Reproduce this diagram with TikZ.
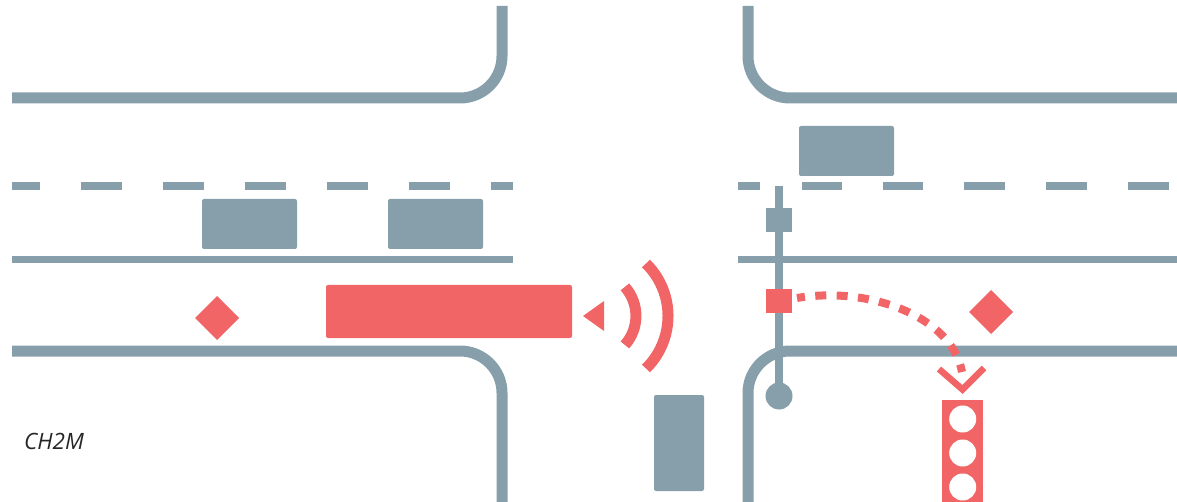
\documentclass[tikz,border=0pt]{standalone}
\usepackage{fontspec}
\setmainfont{Open Sans}
\usetikzlibrary{shapes.geometric}
\definecolor{roadgray}{HTML}{879FAB}
\definecolor{alertred}{HTML}{F26567}
\tikzset{
  road/.style={draw=roadgray,line width=11pt,rounded corners=42pt},
  laneline/.style={draw=roadgray,line width=7pt},
  dashline/.style={draw=roadgray,line width=8pt},
  blockbox/.style={rectangle,inner sep=0pt,outer sep=0pt,rounded corners=2pt},
  car/.style={blockbox,fill=roadgray,minimum width=95pt,minimum height=50pt},
  diamondmark/.style={diamond,fill=alertred,inner sep=0pt,outer sep=0pt,minimum width=44pt,minimum height=44pt},
  wave/.style={draw=alertred,line width=11pt},
  lamp/.style={circle,fill=white,inner sep=0pt,outer sep=0pt,minimum size=27pt},
  sigsquare/.style={rectangle,inner sep=0pt,outer sep=0pt,minimum width=26pt,minimum height=24pt}
}
\begin{document}
\begin{tikzpicture}[x=1pt,y=-1pt]
\useasboundingbox (0,0) rectangle (1177,502);
% kerbs
\draw[road] (12,98) -- (502,98) -- (502,6);
\draw[road] (748,6) -- (748,98) -- (1177,98);
\draw[road] (12,351) -- (502,351) -- (502,502);
\draw[road] (748,502) -- (748,351) -- (1177,351);
% centre dashes
\draw[dashline,dash pattern=on 28pt off 41pt on 41pt off 41pt on 41pt off 41pt on 41pt off 41pt on 41pt off 41pt on 41pt off 41pt on 22pt off 100pt] (12,186) -- (513,186);
\draw[dashline,dash pattern=on 22pt off 42pt on 40pt off 41pt on 40pt off 41pt on 41pt off 41pt on 41pt off 41pt on 41pt off 8pt] (738,186) -- (1169,186);
% lane lines
\draw[laneline] (12,259.5) -- (513,259.5);
\draw[laneline] (738,259.5) -- (1177,259.5);
% vehicles
\node[car] (carA) at (249.5,224) {};
\node[car] (carB) at (435.5,224) {};
\node[car] (carC) at (846.5,151) {};
\node[car,minimum width=50pt,minimum height=96pt] (carD) at (679,443) {};
\node[blockbox,fill=alertred,minimum width=246pt,minimum height=53pt] (bus) at (449,311.5) {};
% detection diamonds
\node[diamondmark] (diaL) at (217,318) {};
\node[diamondmark] (diaR) at (991,312) {};
% transmitter
\fill[alertred] (583,316) -- (604,301) -- (604,331) -- cycle;
\draw[wave] (624.9,286.9) arc[start angle=-41.6,end angle=41.6,radius=43.7];
\draw[wave] (646,263.5) arc[start angle=-45.5,end angle=45.5,radius=73.6];
% signal pole
\node[circle,fill=roadgray,inner sep=0pt,outer sep=0pt,minimum size=27pt] (base) at (779,396) {};
\coordinate (poleTop) at (779,186);
\draw[draw=roadgray,line width=8.5pt] (poleTop) -- (base.center);
\node[sigsquare,fill=roadgray] (sqGray) at (779,220.5) {};
\node[sigsquare,fill=alertred] (sqRed) at (779,301) {};
% dotted path
\coordinate (pathEnd) at (962,372);
\draw[draw=alertred,line width=8pt,dash pattern=on 11pt off 10.4pt,dash phase=3pt] (sqRed.east) ++(5,-3) .. controls (868,286) and (952,316) .. (pathEnd);
% chevron
\draw[draw=alertred,line width=6.5pt,miter limit=10] (939,369) -- (962.5,389.5) -- (984,368);
% signal head
\path[fill=alertred] (942,400) rectangle (983,502);
\node[lamp] (lampA) at (962.7,419) {};
\node[lamp] (lampB) at (962.7,453) {};
\node[lamp] (lampC) at (962.7,487) {};
% credit
\node[anchor=base west,inner sep=0pt,text=black!85] (credit) at (24,449) {\fontsize{22.5}{26}\selectfont\itshape CH2M};
\end{tikzpicture}
\end{document}
